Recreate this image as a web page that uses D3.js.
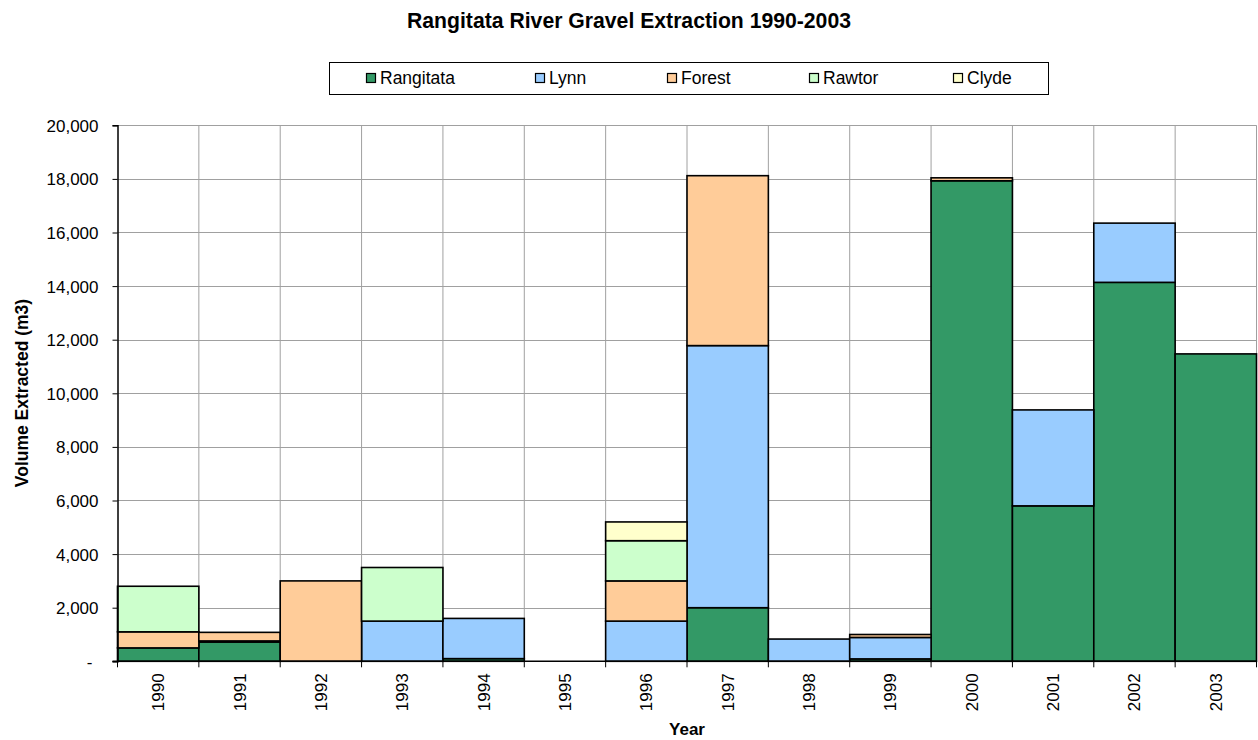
<!DOCTYPE html>
<html><head><meta charset="utf-8">
<script src="https://cdn.jsdelivr.net/npm/d3@7"></script>
<style>body{margin:0;background:#fff;} svg{display:block;font-family:"Liberation Sans",Arial,sans-serif;}</style>
</head><body>
<svg id="c" width="1258" height="740"></svg>
<script>
const years = ["1990","1991","1992","1993","1994","1995","1996","1997","1998","1999","2000","2001","2002","2003"];
const seriesNames = ["Rangitata","Lynn","Forest","Rawtor","Clyde"];
const rangitata = [500, 720, 0, 0, 100, 0, 0, 2000, 0, 90, 17930, 5800, 14140, 11470];
const lynn      = [0, 40, 0, 1500, 1500, 0, 1500, 9780, 830, 800, 0, 3580, 2210, 0];
const forest    = [600, 320, 3000, 0, 0, 0, 1500, 6340, 0, 110, 110, 0, 0, 0];
const rawtor    = [1700, 0, 0, 2000, 0, 0, 1500, 0, 0, 0, 0, 0, 0, 0];
const clyde     = [0, 0, 0, 0, 0, 0, 700, 0, 0, 0, 0, 0, 0, 0];
const colors = ["#339966","#99ccff","#ffcc99","#ccffcc","#ffffcc"];
const yTicks = [0,2000,4000,6000,8000,10000,12000,14000,16000,18000,20000];

const rows = years.map((y,i)=>({year:y, Rangitata:rangitata[i], Lynn:lynn[i], Forest:forest[i], Rawtor:rawtor[i], Clyde:clyde[i]}));
const stack = d3.stack().keys(seriesNames)(rows);

const svg = d3.select("#c");
const L=117.5, R=1256.5, T=125.3, B=661.3;
const x = d3.scaleBand().domain(years).range([L,R]).padding(0);
const y = d3.scaleLinear().domain([0,20000]).range([B,T]);

// title
svg.append("text").attr("x",629).attr("y",28.3).attr("text-anchor","middle")
  .attr("font-weight","bold").attr("font-size",21.2).text("Rangitata River Gravel Extraction 1990-2003");

// gridlines
const g = svg.append("g");
g.selectAll("line.h").data(yTicks.slice(1)).join("line")
  .attr("x1",L).attr("x2",R).attr("y1",d=>Math.round(y(d))+0.5).attr("y2",d=>Math.round(y(d))+0.5)
  .attr("stroke","#a0a0a0").attr("stroke-width",1);
g.selectAll("line.v").data(years.slice(1).map(d=>x(d)).concat([R])).join("line")
  .attr("x1",d=>d).attr("x2",d=>d).attr("y1",T).attr("y2",B)
  .attr("stroke","#a0a0a0").attr("stroke-width",1);

// bars
svg.append("g").selectAll("g").data(stack).join("g")
  .attr("fill",(d,i)=>colors[i])
  .selectAll("rect").data(d=>d.filter(s=>s[1]-s[0]>0)).join("rect")
  .attr("x",d=>x(d.data.year)).attr("width",x.bandwidth())
  .attr("y",d=>y(d[1])).attr("height",d=>y(d[0])-y(d[1]))
  .attr("stroke","#000").attr("stroke-width",1.6);

// y axis
const yAxis = d3.axisLeft(y).tickValues(yTicks).tickSize(5).tickPadding(14)
  .tickFormat(d=>d===0?"-":d3.format(",")(d));
const ya = svg.append("g").attr("transform",`translate(${L},0)`).call(yAxis);
ya.attr("font-size",17).attr("font-family","Liberation Sans, Arial, sans-serif");
ya.select(".domain").attr("stroke","#000").attr("stroke-width",1.5);
ya.selectAll(".tick line").attr("stroke","#000");
ya.selectAll(".tick text").attr("font-size",17).attr("fill","#000").attr("dy","0.35em");
ya.selectAll(".tick").filter(d=>d===0).select("text").attr("dx",-6);

// x axis
const xa = svg.append("g").attr("transform",`translate(0,${B})`);
xa.append("line").attr("x1",L-5).attr("x2",R).attr("y1",0).attr("y2",0).attr("stroke","#000").attr("stroke-width",1.5);
xa.selectAll("line.t").data(years.map(d=>x(d)).concat([R])).join("line")
  .attr("x1",d=>d).attr("x2",d=>d).attr("y1",0).attr("y2",6).attr("stroke","#000");
xa.selectAll("text").data(years).join("text")
  .attr("transform",d=>`translate(${x(d)+x.bandwidth()/2+6},${12}) rotate(-90)`)
  .attr("text-anchor","end").attr("font-size",17).attr("fill","#000").text(d=>d);

// axis titles
svg.append("text").attr("x",687).attr("y",735).attr("text-anchor","middle")
  .attr("font-weight","bold").attr("font-size",17).text("Year");
svg.append("text").attr("transform","translate(28,393) rotate(-90)").attr("text-anchor","middle")
  .attr("font-weight","bold").attr("font-size",17.5).text("Volume Extracted (m3)");

// legend
const lg = svg.append("g");
lg.append("rect").attr("x",329.5).attr("y",62.5).attr("width",719).attr("height",32)
  .attr("fill","#fff").attr("stroke","#000").attr("stroke-width",1);
const legX = [366, 535, 667, 809, 953];
seriesNames.forEach((n,i)=>{
  lg.append("rect").attr("x",legX[i]+0.5).attr("y",73.5).attr("width",9).attr("height",9)
    .attr("fill",colors[i]).attr("stroke","#000").attr("stroke-width",1.2);
  lg.append("text").attr("x",legX[i]+14).attr("y",84).attr("font-size",17.5).text(n);
});
</script>
</body></html>
